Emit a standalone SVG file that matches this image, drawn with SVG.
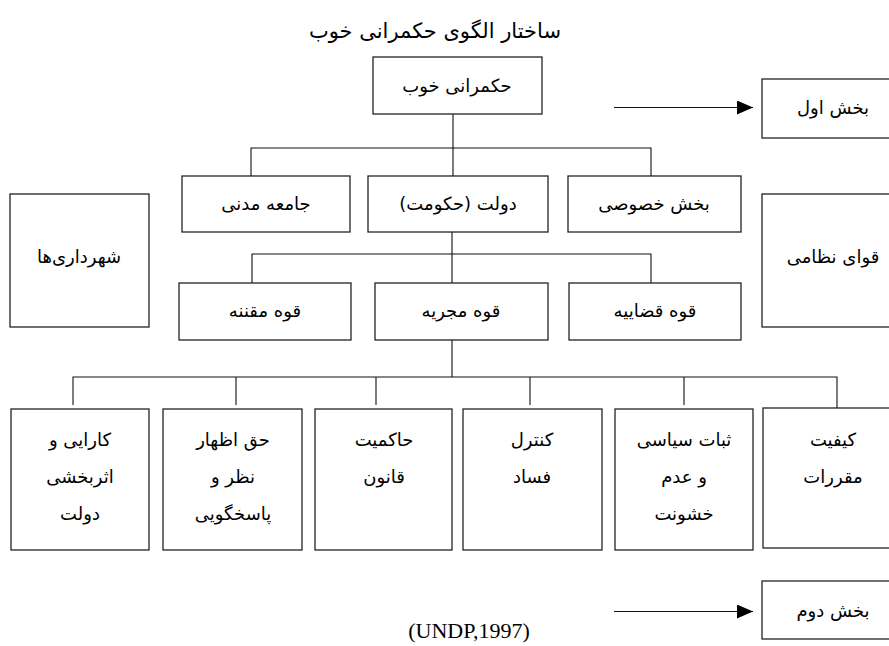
<svg xmlns="http://www.w3.org/2000/svg" width="889" height="646" viewBox="0 0 889 646">
<defs>
<marker id="ah" markerUnits="userSpaceOnUse" markerWidth="18" markerHeight="14" refX="16" refY="7" orient="auto">
<path d="M0,0 L16,7 L0,14 Z" fill="#000"/>
</marker>
</defs>
<style>
.box{fill:#fff;stroke:#222;stroke-width:1.3}
.ln{fill:none;stroke:#111;stroke-width:1.1}
.fa{font-family:"DejaVu Sans","Noto Sans",sans-serif;font-size:18px;fill:#000;text-anchor:middle;direction:rtl;unicode-bidi:embed}
.ti{font-size:21px}
.en{font-family:"Liberation Serif",serif;font-size:22px;fill:#000;text-anchor:middle}
</style>
<rect width="889" height="646" fill="#fff"/>
<text class="fa ti" x="435" y="38">ساختار الگوی حکمرانی خوب</text>
<g id="connectors">
<path class="ln" d="M453,114 V176 M251,176 V148 H651 V176"/>
<path class="ln" d="M452,232 V283 M252,283 V254 H651 V283"/>
<path class="ln" d="M452,340 V377 M73,405 V377 H837 V408 M236,377 V405 M376,377 V405 M530,377 V405 M684,377 V405"/>
<path class="ln" stroke-width="1.6" d="M614,107.5 H753" marker-end="url(#ah)"/>
<path class="ln" stroke-width="1.6" d="M614,611.5 H753" marker-end="url(#ah)"/>
</g>
<g id="n-top"><rect class="box" x="373" y="57" width="169" height="57"/><text class="fa" x="457" y="92">حکمرانی خوب</text></g>
<g id="n-part1"><rect class="box" x="762" y="79" width="150" height="59"/><text class="fa" x="833" y="114">بخش اول</text></g>
<g id="n-civil"><rect class="box" x="182" y="176" width="168" height="56"/><text class="fa" x="266" y="210">جامعه مدنی</text></g>
<g id="n-state"><rect class="box" x="368" y="176" width="180" height="56"/><text class="fa" x="458" y="210">دولت (حکومت)</text></g>
<g id="n-private"><rect class="box" x="568" y="176" width="173" height="56"/><text class="fa" x="654" y="210">بخش خصوصی</text></g>
<g id="n-muni"><rect class="box" x="10" y="194" width="139" height="133"/><text class="fa" x="79" y="263">شهرداری‌ها</text></g>
<g id="n-military"><rect class="box" x="762" y="194" width="150" height="133"/><text class="fa" x="833" y="263">قوای نظامی</text></g>
<g id="n-leg"><rect class="box" x="179" y="283" width="172" height="57"/><text class="fa" x="265" y="317">قوه مقننه</text></g>
<g id="n-exec"><rect class="box" x="375" y="283" width="173" height="57"/><text class="fa" x="461" y="317">قوه مجریه</text></g>
<g id="n-jud"><rect class="box" x="569" y="283" width="172" height="57"/><text class="fa" x="655" y="317">قوه قضاییه</text></g>
<g id="n-b1"><rect class="box" x="11" y="409" width="138" height="141"/><text class="fa" x="80" y="446">کارایی و</text><text class="fa" x="80" y="483">اثربخشی</text><text class="fa" x="80" y="520">دولت</text></g>
<g id="n-b2"><rect class="box" x="163" y="409" width="139" height="141"/><text class="fa" x="233" y="446">حق اظهار</text><text class="fa" x="233" y="483">نظر و</text><text class="fa" x="233" y="520">پاسخگویی</text></g>
<g id="n-b3"><rect class="box" x="315" y="409" width="137" height="141"/><text class="fa" x="384" y="446">حاکمیت</text><text class="fa" x="384" y="483">قانون</text></g>
<g id="n-b4"><rect class="box" x="463" y="409" width="139" height="141"/><text class="fa" x="532" y="446">کنترل</text><text class="fa" x="532" y="483">فساد</text></g>
<g id="n-b5"><rect class="box" x="615" y="409" width="138" height="141"/><text class="fa" x="684" y="446">ثبات سیاسی</text><text class="fa" x="684" y="483">و عدم</text><text class="fa" x="684" y="520">خشونت</text></g>
<g id="n-b6"><rect class="box" x="763" y="408" width="150" height="140"/><text class="fa" x="833" y="446">کیفیت</text><text class="fa" x="833" y="483">مقررات</text></g>
<g id="n-part2"><rect class="box" x="762" y="581" width="150" height="58"/><text class="fa" x="833" y="617">بخش دوم</text></g>
<text class="en" x="469" y="638">(UNDP,1997)</text>
</svg>
